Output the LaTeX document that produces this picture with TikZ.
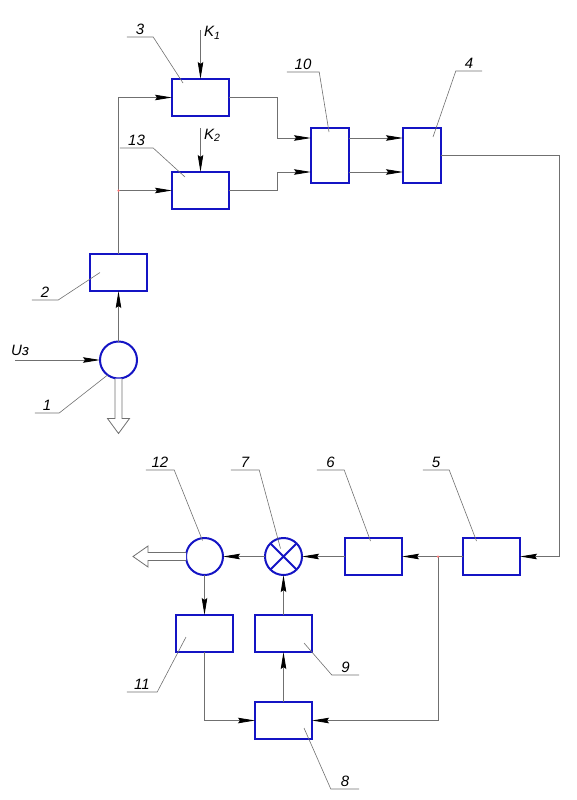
\documentclass[tikz,border=0pt]{standalone}
\usepackage{fontspec}
\setmainfont{Liberation Sans}
\usepackage{tikz}
\usetikzlibrary{positioning,arrows.meta,calc}
\definecolor{blockblue}{HTML}{1414C4}
\definecolor{linegray}{HTML}{707070}

\begin{document}
\begin{tikzpicture}[
  x=1pt, y=-1pt,
  font=\fontsize{15}{17}\selectfont\itshape,
  block/.style={draw=blockblue, line width=2pt, outer sep=0pt, minimum width=57pt, minimum height=37pt, inner sep=0pt},
  tall/.style={block, minimum width=38pt, minimum height=55pt},
  ring/.style={draw=blockblue, line width=2pt, outer sep=0pt, circle, minimum size=37pt, inner sep=0pt},
  sig/.style={draw=linegray, line width=0.8pt, -{Stealth[length=17pt, width=5.5pt, inset=2pt, color=black]}},
  leader/.style={draw=linegray, line width=0.6pt},
  tag/.style={anchor=south, inner xsep=0pt, inner ysep=2.5pt},
  hollow/.style={draw=linegray, line width=0.8pt, fill=white},
  dot/.style={circle, fill=red!55, inner sep=0pt, minimum size=2.5pt}
]
\useasboundingbox (0,0) rectangle (577,800);

% upper chain
\node[block] (b3) at (200.5,97.5) {};
\node[block, below=56pt of b3] (b13) {};
\node[tall] (b10) at (330,155.5) {};
\node[tall, right=54pt of b10] (b4) {};
\node[block] (b2) at (118.5,272.5) {};
\node[ring] (c1) at (118.5,360) {};

% lower chain
\node[block] (b5) at (491.5,556.5) {};
\node[block, left=61pt of b5] (b6) {};
\node[ring] (c7) at (283.5,556.5) {};
\node[ring, left=42pt of c7] (c12) {};
\node[block] (b9) at (283.5,633.5) {};
\node[block, left=22pt of b9] (b11) {};
\node[block, below=50pt of b9] (b8) {};
\draw[blockblue, line width=2pt] (c7.north west) -- (c7.south east) (c7.north east) -- (c7.south west);

% inputs
\coordinate (k1) at (200.5,30);
\coordinate (k2) at (200.5,128);
\coordinate (u3) at (15,360);
\node[anchor=base west, inner sep=0pt] (tk1) at (204,37) {K\textsubscript{1}};
\node[anchor=base west, inner sep=0pt] (tk2) at (204,139) {K\textsubscript{2}};
\node[anchor=base west, inner sep=0pt] (tu3) at (11,355) {Uз};

% junctions
\coordinate (j1) at (b2.north |- b13.west);
\coordinate (j2) at ([xshift=-25pt]b5.west);

% connections
\draw[sig] (k1) -- (b3.north);
\draw[sig] (k2) -- (b13.north);
\draw[sig] (u3) -- (c1.west);
\draw[sig] (c1.north) -- (b2.south);
\draw[sig] (b2.north) |- (b3.west);
\draw[sig] (j1) -- (b13.west);
\draw[sig] (b3.east) -- ++(48,0) |- ([yshift=17.5pt]b10.west);
\draw[sig] (b13.east) -- ++(48,0) |- ([yshift=-16.5pt]b10.west);
\draw[sig] ([yshift=17.5pt]b10.east) -- ([yshift=17.5pt]b4.west);
\draw[sig] ([yshift=-16.5pt]b10.east) -- ([yshift=-16.5pt]b4.west);
\draw[sig] (b4.east) -- ++(118,0) |- (b5.east);
\draw[sig] (b5.west) -- (b6.east);
\draw[sig] (b6.west) -- (c7.east);
\draw[sig] (c7.west) -- (c12.east);
\draw[sig] (c12.south) -- (b11.north);
\draw[sig] (b9.north) -- (c7.south);
\draw[sig] (b8.north) -- (b9.south);
\draw[sig] (b11.south) |- (b8.west);
\draw[sig] (j2) |- (b8.east);
\node[dot] (d1) at (j1) {};
\node[dot] (d2) at (j2) {};

% outputs
\draw[hollow] ([xshift=-3.5pt]c1.south) -- ++(0,40) -- ++(-7.5,0) -- ++(11,15) -- ++(11,-15) -- ++(-7.5,0) -- ++(0,-40);
\draw[hollow] ([yshift=4pt]c12.west) -- ++(-38,0) -- ++(0,-6.5) -- ++(-15,10.5) -- ++(15,10.5) -- ++(0,-6.5) -- ++(38,0);

% position numbers
\node[tag, minimum width=26pt] (t3) at (140,37) {3};
\draw[leader] (t3.south west) -- (t3.south east) -- ($(b3.north west)+(11,4)$);
\node[tag, minimum width=33pt] (t13) at (136.5,148) {13};
\draw[leader] (t13.south west) -- (t13.south east) -- ($(b13.north west)+(13,5)$);
\node[tag, minimum width=32pt] (t10) at (303,72) {10};
\draw[leader] (t10.south west) -- (t10.south east) -- ($(b10.north)+(-1,4)$);
\node[tag, minimum width=26pt] (t4) at (469,71) {4};
\draw[leader] (t4.south east) -- (t4.south west) -- ($(b4.north)+(11,9)$);
\node[tag, minimum width=26pt] (t2) at (45,300) {2};
\draw[leader] (t2.south west) -- (t2.south east) -- ($(b2.west)+(10,0)$);
\node[tag, minimum width=24pt] (t1) at (47,413) {1};
\draw[leader] (t1.south west) -- (t1.south east) -- (c1.234);
\node[tag, minimum width=28pt] (t12) at (160,470) {12};
\draw[leader] (t12.south west) -- (t12.south east) -- ($(c12.center)+(-2,-16)$);
\node[tag, minimum width=28pt] (t7) at (245,470) {7};
\draw[leader] (t7.south west) -- (t7.south east) -- ($(c7.center)+(-3,-8)$);
\node[tag, minimum width=27pt] (t6) at (330.5,470) {6};
\draw[leader] (t6.south west) -- (t6.south east) -- ($(b6.north)+(-3,3)$);
\node[tag, minimum width=26pt] (t5) at (436,470) {5};
\draw[leader] (t5.south west) -- (t5.south east) -- ($(b5.north)+(-15,3)$);
\node[tag, minimum width=30pt] (t11) at (142,692) {11};
\draw[leader] (t11.south west) -- (t11.south east) -- ($(b11.west)+(10,3.5)$);
\node[tag, minimum width=27pt] (t9) at (345.5,675) {9};
\draw[leader] (t9.south east) -- (t9.south west) -- ($(b9.east)+(-8,9.5)$);
\node[tag, minimum width=28pt] (t8) at (345,789) {8};
\draw[leader] (t8.south east) -- (t8.south west) -- ($(b8.east)+(-8,7.5)$);
\end{tikzpicture}
\end{document}
